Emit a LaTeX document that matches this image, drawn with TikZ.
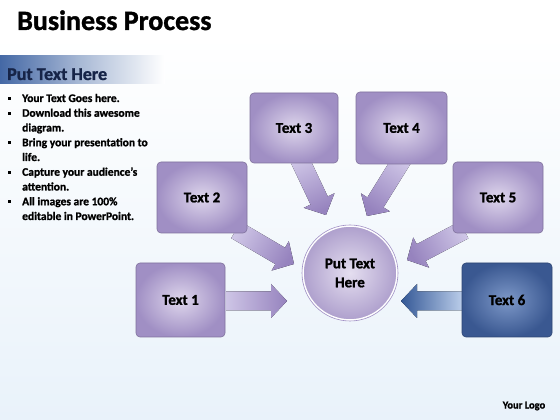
\documentclass[tikz,border=0pt]{standalone}
\usepackage{fontspec}
\setmainfont{Carlito}[BoldFeatures={FakeBold=1.2}]
\usetikzlibrary{calc}
\definecolor{boxedge}{RGB}{160,143,196}
\definecolor{boxmid}{RGB}{222,214,236}
\definecolor{blueedge}{RGB}{58,88,145}
\definecolor{bluemid}{RGB}{125,152,200}
\definecolor{bgblue}{RGB}{233,242,250}
\definecolor{headblue}{RGB}{68,104,165}
\definecolor{headtext}{RGB}{22,36,72}
\definecolor{arrdark}{RGB}{150,131,190}
\definecolor{arrlight}{RGB}{206,197,230}
\definecolor{barrdark}{RGB}{52,88,150}
\definecolor{barrlight}{RGB}{190,208,236}
\newcommand\blockarr[3]{%
  \coordinate (#1h) at ($(#2)!16pt!(#1)$);
  \fill[#3] ($(#1)!9.5pt!90:(#2)$) -- ($(#1h)!9.5pt!90:(#2)$)
    -- ($(#1h)!17pt!90:(#2)$) -- (#2) -- ($(#1h)!17pt!-90:(#2)$)
    -- ($(#1h)!9.5pt!-90:(#2)$) -- ($(#1)!9.5pt!-90:(#2)$) -- cycle;}
\begin{document}
\begin{tikzpicture}[x=1pt,y=1pt,
  stepbox/.style={rectangle, rounded corners=4pt, minimum width=90pt,
    minimum height=72pt, inner color=boxmid, outer color=boxedge,
    draw=boxedge!80!black, line width=0.6pt,
    font=\bfseries\fontsize{15}{17}\selectfont},
  bluebox/.style={stepbox, inner color=bluemid, outer color=blueedge,
    draw=blueedge!80!black},
  bul/.style={anchor=base west, inner sep=0pt,
    font=\bfseries\fontsize{11.5}{14}\selectfont},
  dot/.style={rectangle, fill=black, inner sep=0pt, minimum size=3pt},
  purplearr/.style={top color=arrlight, bottom color=arrdark},
  bluearr/.style={top color=barrlight, bottom color=barrdark}]
\useasboundingbox (0,0) rectangle (560,420);
% background
\fill[white] (0,0) rectangle (560,420);
\fill[top color=white, bottom color=bgblue] (0,0) rectangle (560,385);
% title
\node[anchor=base west, inner sep=0pt, font=\bfseries\fontsize{28}{30}\selectfont] (title) at (17,390) {Business Process};
% header band
\shade[left color=headblue, right color=white, middle color=headblue!45!white] (0,336) rectangle (165,364);
\node[anchor=base west, inner sep=0pt, text=headtext, font=\bfseries\fontsize{18}{20}\selectfont] (head) at (7,340) {Put Text Here};
% bullets
\foreach \i/\y in {b1/318, b2/303.25, b4/273.75, b6/244.25, b8/214.75}
  \node[dot] (\i) at (9,\y+3.4) {};
\node[bul] (l1) at (22,318) {Your Text Goes here.};
\node[bul] (l2) at (22,303.25) {Download this awesome};
\node[bul] (l3) at (22,288.5) {diagram.};
\node[bul] (l4) at (22,273.75) {Bring your presentation to};
\node[bul] (l5) at (22,259) {life.};
\node[bul] (l6) at (22,244.25) {Capture your audience’s};
\node[bul] (l7) at (22,229.5) {attention.};
\node[bul] (l8) at (22,214.75) {All images are 100\%};
\node[bul] (l9) at (22,200) {editable in PowerPoint.};
% arrow coordinates
\coordinate (s1) at (226,119);  \coordinate (e1) at (287,119);
\coordinate (s2) at (236,190);  \coordinate (e2) at (294,156);
\coordinate (s3) at (299,262);  \coordinate (e3) at (326,205);
\coordinate (s4) at (403,262);  \coordinate (e4) at (367,204);
\coordinate (s5) at (464,190);  \coordinate (e5) at (407,160);
\coordinate (s6) at (464,119);  \coordinate (e6) at (401,119);
\blockarr{s1}{e1}{purplearr, shading angle=90}
\blockarr{s2}{e2}{purplearr, shading angle=59}
\blockarr{s3}{e3}{purplearr, shading angle=25}
\blockarr{s4}{e4}{purplearr, shading angle=-34}
\blockarr{s5}{e5}{purplearr, shading angle=-62}
\blockarr{s6}{e6}{bluearr, shading angle=-90}
% boxes
\node[stepbox, minimum width=89pt, minimum height=74pt] (t1) at (180.5,120) {Text 1};
\node[stepbox, minimum height=71pt] (t2) at (202,222.5) {Text 2};
\node[stepbox, minimum width=88pt, minimum height=70pt] (t3) at (294,292) {Text 3};
\node[stepbox, minimum width=91pt] (t4) at (401.5,292) {Text 4};
\node[stepbox, minimum height=71pt] (t5) at (498,222.5) {Text 5};
\node[bluebox, minimum height=74pt] (t6) at (507,120) {Text 6};
% hub
\node[circle, minimum size=94pt, inner color=boxmid!80!white, outer color=boxedge!85!white,
  draw=white, line width=1.6pt, align=center,
  font=\bfseries\fontsize{15}{19}\selectfont] (hub) at (350,147) {Put Text\\Here};
\draw[boxedge, line width=0.6pt] (hub.center) circle (48pt);
% logo
\node[inner sep=0pt, font=\bfseries\fontsize{10.5}{12}\selectfont] (logo) at (524,14) {Your Logo};
\end{tikzpicture}
\end{document}
